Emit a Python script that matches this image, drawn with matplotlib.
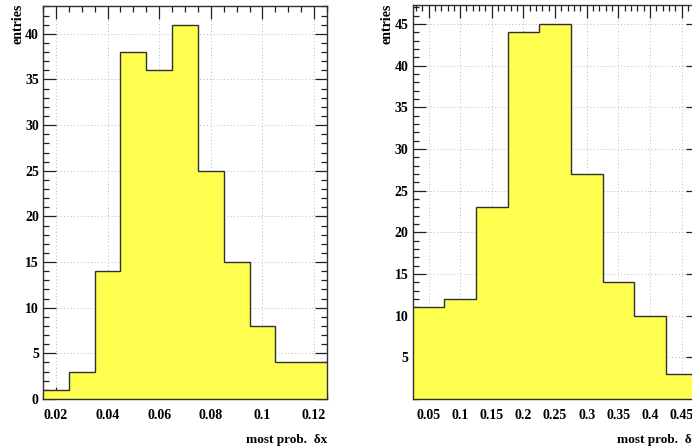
import numpy as np
import matplotlib.pyplot as plt
from matplotlib.ticker import MultipleLocator, FixedLocator

plt.rcParams['font.family'] = ['Liberation Serif', 'DejaVu Serif']
plt.rcParams['font.weight'] = 'bold'

# left panel: most probable delta x
dx_edges = [0.015, 0.025, 0.035, 0.045, 0.055, 0.065, 0.075, 0.085, 0.095, 0.105, 0.115, 0.125]
dx_counts = [1, 3, 14, 38, 36, 41, 25, 15, 8, 4, 4]

# right panel: most probable delta z
dz_edges = [0.025, 0.075, 0.125, 0.175, 0.225, 0.275, 0.325, 0.375, 0.425, 0.475]
dz_counts = [11, 12, 23, 44, 45, 27, 14, 10, 3]

W, H = 692, 447
fig = plt.figure(figsize=(W / 100, H / 100), dpi=100)

def pos(x0, y0, x1, y1):
    return [x0 / W, 1 - y1 / H, (x1 - x0) / W, (y1 - y0) / H]

def draw(ax, edges, counts, xmajor, xminor, yticks, xlabels, xlabel):
    ax.set_xlim(edges[0], edges[-1])
    ax.set_ylim(0, max(counts) * 1.05)
    # dotted grid behind the histogram
    for x in xmajor:
        ax.axvline(x, ls=(0, (1, 2.5)), color='#b8b8b8', lw=0.7, zorder=1)
    for y in yticks:
        ax.axhline(y, ls=(0, (1, 2.5)), color='#b8b8b8', lw=0.7, zorder=1)
    ax.stairs(counts, edges, fill=True, color='#ffff50', zorder=2)
    ax.stairs(counts, edges, color='#303030', lw=1.0, baseline=None, zorder=3)
    ax.xaxis.set_major_locator(FixedLocator(xmajor))
    ax.set_xticklabels(xlabels)
    ax.xaxis.set_minor_locator(MultipleLocator(xminor))
    ax.yaxis.set_major_locator(FixedLocator(yticks))
    ax.set_yticklabels([str(v) for v in yticks])
    ax.yaxis.set_minor_locator(MultipleLocator(1))
    ax.tick_params(which='both', direction='in', top=True, right=True,
                   labelsize=10, color='#202020', width=0.9)
    ax.tick_params(axis='x', which='major', pad=7)
    ax.tick_params(axis='y', which='major', pad=3)
    ax.tick_params(which='major', length=9)
    ax.tick_params(which='minor', length=4.5)
    for s in ax.spines.values():
        s.set_color('#303030')
        s.set_linewidth(1.0)
        s.set_zorder(4)
    for lab in ax.get_xticklabels() + ax.get_yticklabels():
        lab.set_fontweight('bold')
    ax.set_xlabel(xlabel, fontsize=9.5, fontweight='bold', loc='right', labelpad=9)

ax1 = fig.add_axes(pos(43, 6, 327, 399))
draw(ax1, dx_edges, dx_counts, [0.02, 0.04, 0.06, 0.08, 0.1, 0.12], 0.005,
     [0, 5, 10, 15, 20, 25, 30, 35, 40],
     ['0.02', '0.04', '0.06', '0.08', '0.1', '0.12'], 'most prob.  δx')

ax2 = fig.add_axes(pos(412.7, 5.3, 697.5, 399))
draw(ax2, dz_edges, dz_counts, [0.05, 0.1, 0.15, 0.2, 0.25, 0.3, 0.35, 0.4, 0.45], 0.01,
     [5, 10, 15, 20, 25, 30, 35, 40, 45],
     ['0.05', '0.1', '0.15', '0.2', '0.25', '0.3', '0.35', '0.4', '0.45'], 'most prob.  δz')

fig.text(17.5 / W, 1 - 4 / H, 'entries', rotation=90, ha='center', va='top',
         fontsize=10, fontweight='bold')
fig.text(387 / W, 1 - 4 / H, 'entries', rotation=90, ha='center', va='top',
         fontsize=10, fontweight='bold')

fig.savefig('out.png', dpi=100)
